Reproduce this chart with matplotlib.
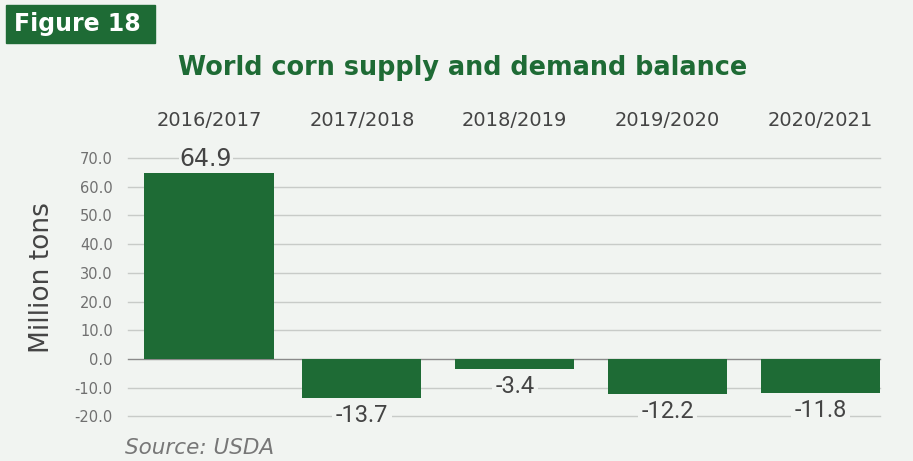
import matplotlib
matplotlib.use("Agg")
import matplotlib.pyplot as plt
from matplotlib.patches import Rectangle
import matplotlib.transforms as mtransforms

# Data
seasons = ["2016/2017", "2017/2018", "2018/2019", "2019/2020", "2020/2021"]
balance = [64.9, -13.7, -3.4, -12.2, -11.8]
y_ticks = [-20, -10, 0, 10, 20, 30, 40, 50, 60, 70]

BG = "#f1f4f1"
GREEN = "#1e6b35"
GRID = "#c8cbc8"
TEXT = "#444444"

plt.rcParams["font.family"] = ["DejaVu Sans"]

fig = plt.figure(figsize=(9.13, 4.61), dpi=100, facecolor=BG)
ax = fig.add_axes([0.1402, 0.0967, 0.8237, 0.5605], facecolor=BG)

x = list(range(len(seasons)))
widths = [0.85, 0.78, 0.78, 0.78, 0.78]
ax.bar(x, balance, width=widths, color=GREEN, zorder=3)

ax.set_ylim(-20, 70)
ax.set_xlim(-0.53, 4.39)
ax.set_yticks(y_ticks)
ax.set_yticklabels([f"{v:.1f}" for v in y_ticks], color="#707070", fontsize=10.5)
ax.tick_params(axis="y", length=0, pad=11)
ax.set_xticks([])
for s in ax.spines.values():
    s.set_visible(False)
for v in y_ticks:
    ax.axhline(v, color="#8a8a8a" if v == 0 else GRID, lw=1.0, zorder=1,
               clip_on=False)

fig.text(42 / 913, 1 - 278 / 461, "Million tons", fontsize=19, color=TEXT,
         rotation=90, ha="center", va="center")

# Season headings above the plot
trans = mtransforms.blended_transform_factory(ax.transData, fig.transFigure)
for xi, s in zip(x, seasons):
    ax.text(xi, 1 - 120 / 461, s, transform=trans, ha="center", va="center",
            fontsize=14, color=TEXT)

# Value labels
for xi, v in zip(x, balance):
    if v >= 0:
        ax.text(xi - 0.02, v + 0.6, f"{v:.1f}", ha="center", va="bottom",
                fontsize=17, color=TEXT, zorder=4, clip_on=False,
                bbox=dict(boxstyle="square,pad=0.05", fc=BG, ec="none"))
    else:
        ax.text(xi, v - 2.0, f"{v:.1f}", ha="center", va="top",
                fontsize=17, color=TEXT, zorder=4, family=["Roboto", "DejaVu Sans"],
                bbox=dict(boxstyle="square,pad=0.15", fc=BG, ec="none"))

# Figure badge and title
fig.patches.append(Rectangle((6 / 913, 1 - 43 / 461), 149 / 913, 38 / 461,
                             transform=fig.transFigure, color=GREEN, zorder=0))
fig.text(14 / 913, 1 - 24 / 461, "Figure 18", color="white", fontsize=17,
         fontweight="bold", ha="left", va="center")
fig.text(463 / 913, 1 - 68 / 461, "World corn supply and demand balance",
         color=GREEN, fontsize=18.4, fontweight="bold", ha="center", va="center")

fig.text(125 / 913, 1 - 448 / 461, "Source: USDA", color="#777777", fontsize=15.5,
         style="italic", ha="left", va="center")

fig.savefig("out.png", dpi=100, facecolor=BG)
